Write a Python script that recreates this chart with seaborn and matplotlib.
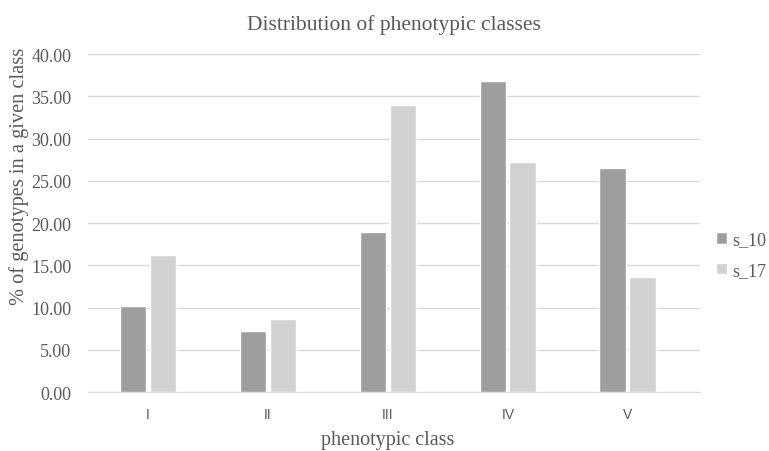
import pandas as pd
import matplotlib
matplotlib.use("Agg")
import matplotlib.pyplot as plt
import seaborn as sns

classes = ["I", "II", "III", "IV", "V"]
s_10 = [10.24, 7.21, 18.99, 36.8, 26.5]
s_17 = [16.23, 8.67, 34.0, 27.19, 13.6]
series = ["s_10", "s_17"]
colors = ["#9e9e9e", "#d0d1d1"]

df = pd.DataFrame({
    "phenotypic class": classes * 2,
    "value": s_10 + s_17,
    "series": ["s_10"] * len(classes) + ["s_17"] * len(classes),
})

sns.set_style("white")
plt.rcParams["font.family"] = ["Liberation Serif", "DejaVu Serif"]

fig = plt.figure(figsize=(7.69, 4.52), dpi=100)
ax = fig.add_axes([0.1144, 0.1305, 0.7956, 0.7475])

sns.barplot(data=df, x="phenotypic class", y="value", hue="series",
            hue_order=series, palette=colors, width=0.5, gap=0.11,
            saturation=1, ax=ax, zorder=3)

ax.set_ylim(0, 40)
ax.set_yticks(range(0, 41, 5))
ax.set_yticklabels([f"{v:.2f}" for v in range(0, 41, 5)], color="#595959", fontsize=13)
ax.set_xticks(range(len(classes)))
ax.set_xticklabels(classes, family="Liberation Sans", color="#595959", fontsize=10)
ax.tick_params(axis="y", length=0, pad=12)
ax.tick_params(axis="x", length=0, pad=10.5)
ax.grid(axis="y", color="#d9d9d9", linewidth=1, zorder=0)
ax.set_axisbelow(True)
for s in ["top", "right", "left"]:
    ax.spines[s].set_visible(False)
ax.spines["bottom"].set_color("#d9d9d9")
ax.set_xlim(-0.5, 4.6)

ax.set_xlabel("phenotypic class", color="#595959", fontsize=14.5)
ax.xaxis.set_label_coords(0.49, -0.113)
ax.set_ylabel("% of genotypes in a given class", color="#595959", fontsize=14.7)
ax.yaxis.set_label_coords(-0.097, 0.64)
ax.set_title("Distribution of phenotypic classes", color="#595959", fontsize=15.5, pad=18)

ax.legend(loc="center left", bbox_to_anchor=(1.0, 0.405), frameon=False,
          fontsize=13, handlelength=0.6, handleheight=0.6, handletextpad=0.3,
          labelspacing=0.75, labelcolor="#595959")

fig.savefig("out.png", dpi=100)
